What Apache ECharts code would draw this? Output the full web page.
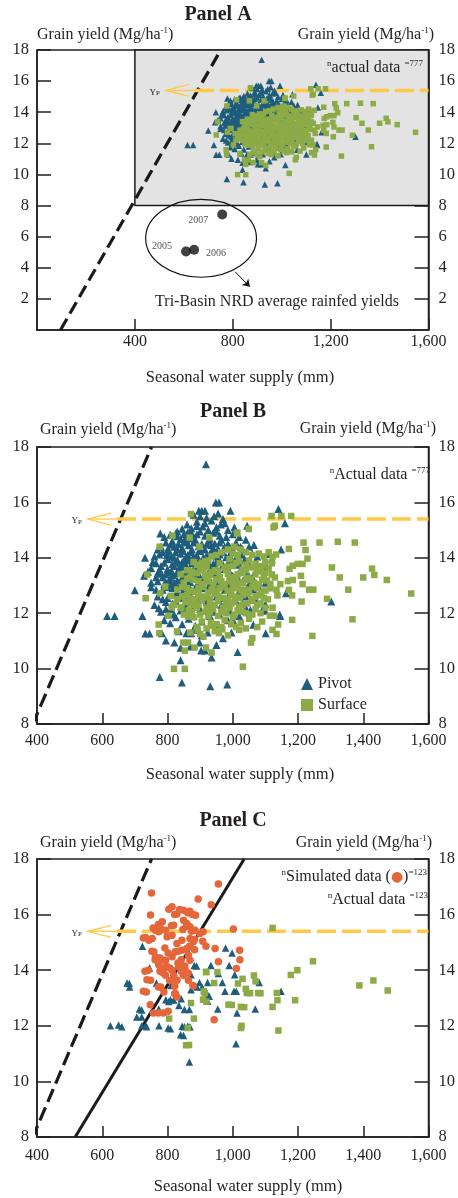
<!DOCTYPE html>
<html><head><meta charset="utf-8">
<script src="https://cdn.jsdelivr.net/npm/echarts@6/dist/echarts.min.js"></script>
<style>html,body{margin:0;padding:0;background:#fff}#c{width:458px;height:1198px}</style>
</head><body><div id="c"></div>
<script>
const FONT = "'Liberation Serif','DejaVu Serif',serif";
const INK = '#231f20';
const BLUE = '#1e5d7c', GREEN = '#8cab46', ORANGE = '#e5663a', YELLOW = '#ffc845';

// ---- Data: actual data (n = 777), shared by Panels A and B ----
const pivotActual = [
[615,11.9],[638,11.9],[700,12.83],[723,11.9],[732,11.27],[745,11.27],[731,14.0],[728,13.35],[740,13.5],[776,9.7],[844,9.5],[931,9.36],[983,9.43],[840,10.3],[935,10.4],[1015,10.6],[903,10.65],[915,10.65],[918,17.38],[948,16.0],[958,16.0],[896,15.7],[905,15.7],[915,15.7],[993,15.7],[1140,15.76],[1160,15.25],[1044,15.16],[1065,14.46],[1148,14.3],[1302,12.42],[1145,11.9],[1101,11.28],[1063,11.58],[1163,12.72],[1104,13.66],[1114,14.14],[1024,14.4],[1036,13.9],[1094,12.21],[1099,12.09],[1054,12.12],[996,11.3],[1002,11.73],[1064,12.86],
[873,15.07],[908,15.13],[943,15.5],[963,15.2],[925,15.0],[890,15.3],[985,15.0],[860,15.2],[935,15.35],
[880,15.55],[920,15.45],[955,15.6],[970,15.4],[900,15.5],
[845,15.05],[915,15.25],[950,15.1],[975,15.25],[1005,15.1],[830,14.95],[890,15.15],
[778,14.88],[808,14.83],[850,14.85],[873,14.9],[900,14.95],[940,14.9],[960,14.8],[1000,14.85],[1020,14.75],[830,14.78],[915,14.8],[880,14.76],
[790,14.75],[825,14.88],[855,14.7],[890,14.85],[930,14.7],[950,14.95],[980,14.75],[1040,14.65],[862,14.92],
[815,14.6],[833,14.5],[860,14.55],[885,14.65],[905,14.5],[925,14.6],[945,14.52],[965,14.65],[985,14.5],[1010,14.55],[870,14.7],[840,14.68],[795,14.55],
[800,14.3],[820,14.4],[845,14.35],[865,14.45],[875,14.3],[895,14.42],[915,14.3],[935,14.45],[955,14.33],[975,14.4],[1000,14.3],[1030,14.32],[780,14.4],
[810,14.48],[830,14.32],[850,14.58],[880,14.55],[900,14.32],[920,14.48],[940,14.35],[960,14.55],[990,14.4],[1050,14.4],[770,14.3],
[798,14.1],[810,14.05],[825,14.2],[840,14.15],[855,14.0],[870,14.2],[890,14.1],[910,14.02],[930,14.15],[950,14.05],[970,14.2],[990,14.1],[1010,14.0],[1075,14.05],[1120,13.95],[785,14.2],[760,14.05],
[775,14.12],[805,14.25],[820,14.0],[848,14.25],[862,14.1],[880,14.05],[900,14.25],[920,14.08],[940,14.25],[960,14.12],[980,14.02],[1000,14.22],[1030,14.1],[1060,14.15],
[765,13.8],[790,13.82],[815,13.78],[830,13.92],[845,13.85],[860,13.95],[875,13.8],[895,13.88],[920,13.85],[940,13.78],[960,13.9],[985,13.8],[1005,13.85],[1050,13.78],
[780,13.7],[800,13.95],[825,13.82],[838,13.7],[855,13.78],[870,13.9],[885,13.7],[910,13.92],[930,13.72],[950,13.85],[970,13.75],[995,13.9],[1020,13.75],[1070,13.85],[755,13.85],
[750,13.62],[775,13.55],[800,13.6],[820,13.7],[835,13.55],[850,13.68],[865,13.52],[885,13.62],[905,13.7],[930,13.55],[950,13.65],[975,13.6],[1025,13.6],[1090,13.55],[812,13.52],
[765,13.3],[782,13.42],[795,13.4],[810,13.28],[828,13.45],[845,13.3],[860,13.45],[875,13.32],[890,13.45],[915,13.3],[940,13.42],[960,13.28],[1000,13.35],[1060,13.3],
[785,13.3],[800,13.48],[818,13.38],[838,13.48],[852,13.38],[868,13.58],[880,13.25],[898,13.35],[925,13.45],[950,13.35],[990,13.5],[1015,13.3],[1045,13.45],[770,13.45],
[750,13.1],[770,13.15],[790,13.05],[805,13.2],[822,13.1],[840,13.05],[855,13.2],[870,13.12],[900,13.0],[920,13.18],[935,13.1],[965,13.2],[985,13.05],[1030,13.15],[1100,13.1],
[750,12.94],[785,12.85],[800,12.95],[815,12.9],[830,12.78],[845,12.95],[875,12.8],[905,12.9],[940,12.85],[1020,12.8],[1080,12.95],
[765,12.85],[795,13.12],[812,13.05],[830,13.18],[850,12.85],[862,13.05],[885,12.92],[895,13.12],[925,12.95],[955,13.05],[975,12.85],[1005,12.95],[1050,13.05],
[770,12.6],[800,12.55],[830,12.7],[860,12.55],[890,12.6],[920,12.65],[960,12.55],[990,12.7],[1040,12.6],
[785,12.5],[815,12.35],[840,12.55],[870,12.45],[900,12.5],[935,12.3],[950,12.6],[980,12.45],[1030,12.35],[1070,12.5],
[760,12.3],[795,12.4],[825,12.45],[855,12.35],[885,12.3],[920,12.4],[965,12.3],[1010,12.45],[1100,12.32],
[773,12.18],[780,12.05],[810,12.15],[840,12.1],[870,12.02],[900,12.15],[940,12.05],[990,12.1],[1040,12.2],[1144,11.95],
[795,12.15],[820,11.95],[855,12.15],[880,11.9],[915,12.1],[960,11.95],[1020,11.9],
[790,11.75],[808,11.64],[825,11.85],[845,11.6],[865,11.8],[885,11.55],[905,11.7],[930,11.9],[955,11.6],[985,11.75],[800,11.95],
[783,11.28],[795,11.01],[821,10.94],[835,11.35],[858,11.28],[873,11.28],[923,11.3],[880,11.4],[905,11.2],[970,11.1],[898,10.94],
[840,10.75],[870,10.8],[950,10.85]
];
const surfaceActual = [
[872,15.58],[1119,15.51],[1149,15.51],[1179,15.51],[1129,15.16],[1049,15.04],[1014,14.91],[1217,14.55],[1266,14.55],[1322,14.58],[1374,14.55],[1172,14.32],[1223,14.28],[1229,13.97],[1133,14.12],[1122,14.04],[1199,13.78],[1214,13.78],[1184,13.71],[1174,13.6],[1304,13.65],[1427,13.61],[1434,13.38],[1328,13.29],[1400,13.29],[1472,13.2],[1129,13.29],[1209,13.35],[1169,13.16],[1184,13.2],[1214,13.05],[1146,13.05],[1234,12.85],[1247,12.85],[1354,12.85],[1172,12.84],[1134,12.85],[1289,12.52],[1211,12.42],[1182,12.64],[1137,12.64],[1547,12.71],[1122,12.2],[1114,11.91],[1127,11.91],[1182,11.76],[1367,11.78],[1139,11.59],[1122,11.4],[1134,11.25],[1244,11.18],[1056,10.94],[1031,10.07],
[815,14.8],[776,14.4],[868,14.73],[898,14.4],[928,14.73],[738,13.4],[793,12.96],[733,12.54],[778,12.72],[813,12.21],[803,11.91],[773,11.59],[775,11.28],[829,11.34],[848,10.94],[863,10.94],[853,10.65],[883,10.76],[918,10.76],[935,10.58],[820,9.99],[853,9.99],[893,11.4],[933,11.66],[958,11.28],[968,11.42],[843,12.21],[863,11.88],[1013,14.88],[1125,15.1],
[985,14.3],[1005,14.4],[1040,14.2],[1080,14.15],[1095,14.05],[950,14.1],[1015,14.1],
[965,14.2],[1025,14.3],[1060,14.1],[1110,14.2],[935,14.05],[1000,14.15],
[880,13.85],[905,13.8],[925,13.9],[990,13.95],[1010,13.82],[1050,13.9],[1070,13.78],[1100,13.85],
[890,13.75],[915,13.88],[960,13.8],[985,13.68],[1020,13.88],[1040,13.75],[1090,13.7],[1120,13.8],
[900,13.6],[920,13.7],[945,13.55],[975,13.65],[1000,13.7],[1030,13.58],[1060,13.65],[1085,13.52],[1110,13.6],[860,13.55],
[875,13.5],[910,13.55],[930,13.38],[955,13.5],[980,13.55],[1015,13.4],[1040,13.55],[1075,13.55],[1100,13.45],[1120,13.4],
[840,13.4],[870,13.3],[890,13.45],[915,13.35],[935,13.48],[960,13.3],[985,13.42],[1005,13.3],[1025,13.45],[1045,13.28],[1070,13.4],[1095,13.3],
[860,13.25],[895,13.15],[920,13.28],[940,13.05],[965,13.15],[990,13.28],[1010,13.2],[1030,13.1],[1055,13.22],[1080,13.05],[1105,13.18],
[850,13.1],[880,13.2],[905,13.05],[925,13.15],[950,13.22],[975,13.05],[995,13.15],[1015,13.05],[1040,13.2],[1065,13.1],[1090,13.2],[1115,13.05],
[830,12.85],[860,12.9],[885,12.78],[910,12.95],[935,12.85],[960,12.9],[985,12.8],[1000,12.95],[1025,12.85],[1050,12.78],[1075,12.9],[1100,12.82],
[845,12.95],[870,12.8],[895,12.9],[925,12.75],[950,12.8],[975,12.95],[995,12.75],[1015,12.9],[1040,12.85],[1060,12.95],[1088,12.75],[1115,12.9],
[845,12.6],[870,12.55],[895,12.7],[920,12.6],[945,12.7],[970,12.55],[995,12.65],[1020,12.55],[1045,12.7],[1070,12.6],[1095,12.55],[810,12.62],
[830,12.5],[860,12.65],[885,12.5],[905,12.6],[930,12.5],[958,12.62],[985,12.5],[1008,12.6],[1030,12.65],[1058,12.52],[1082,12.65],[1108,12.5],
[820,12.3],[855,12.4],[880,12.3],[905,12.45],[930,12.35],[955,12.45],[980,12.3],[1005,12.4],[1030,12.3],[1060,12.45],[1085,12.35],
[840,12.2],[870,12.35],[895,12.3],[920,12.2],[945,12.3],[970,12.2],[995,12.35],[1020,12.22],[1045,12.35],[1075,12.3],[1100,12.2],
[865,12.1],[890,12.2],[915,12.05],[940,12.15],[965,12.05],[990,12.2],[1015,12.1],[1040,12.0],[1070,12.15],
[850,11.95],[875,12.05],[900,11.95],[930,12.05],[955,11.9],[980,12.0],[1005,11.95],[1030,12.05],[1060,11.95],[1085,12.0],
[880,11.85],[905,11.7],[925,11.9],[950,11.6],[975,11.75],[1000,11.85],[1025,11.65],[1050,11.8],[1090,11.7],
[890,11.5],[920,11.45],[940,11.55],[965,11.5],[995,11.6],[1010,11.5],[1040,11.45],[1075,11.5],[900,11.25],
[870,11.3],[910,11.15],[945,11.35],[985,11.2],[1020,11.4],[1060,11.1]
];

// ---- Panel A: Tri-Basin NRD average rainfed yields ----
const rainfedYears = ['2005', '2006', '2007'];
const rainfedSupply = [609, 642, 757];
const rainfedYield = [5.05, 5.16, 7.42];

// ---- Panel C (n = 123) ----
const simulatedC = [
[956,17.1],[751,16.78],[894,16.56],[934,16.35],[748,15.99],[1002,15.48],
[814,16.28],[804,16.19],[829,16.02],[849,16.16],[862,16.07],[874,16.02],[886,15.98],[822,16.0],[837,16.18],[868,16.12],[878,16.0],
[784,15.74],[774,15.62],[819,15.62],[849,15.8],[859,15.68],[869,15.56],[756,15.52],[772,15.64],[812,15.6],[858,15.58],
[763,15.44],[773,15.38],[794,15.44],[884,15.44],[899,15.32],[909,15.38],[782,15.46],[847,15.46],[873,15.4],
[733,15.18],[743,15.08],[753,15.14],[799,15.2],[814,15.26],[829,14.96],[844,15.08],[869,15.14],[879,15.02],[726,15.16],[883,15.1],[908,15.04],
[758,14.66],[763,14.48],[794,14.36],[814,14.48],[824,14.66],[844,14.72],[859,14.78],[864,14.54],[918,14.86],[752,14.68],[792,14.8],[802,14.62],[832,14.68],[868,14.86],[883,14.74],[946,14.78],[1021,14.72],
[774,14.18],[784,14.36],[834,14.12],[849,14.15],[854,14.0],[869,14.36],[762,14.38],[777,14.44],[842,14.38],[956,14.3],[1022,14.38],[797,14.14],[807,14.08],[832,14.26],[853,14.14],[772,14.26],
[741,14.0],[748,13.64],[789,14.06],[794,13.82],[814,14.0],[819,13.82],[829,13.64],[849,13.82],[864,13.64],[1011,14.06],[731,13.96],[737,13.66],[777,13.96],[787,13.9],[842,13.96],[863,13.9],[817,13.66],[807,13.63],
[879,13.43],[735,13.22],[779,13.4],[789,13.22],[824,13.16],[829,13.04],[822,13.42],[726,13.24],[772,13.4],[878,13.45],[822,13.15],
[747,12.76],[757,12.46],[772,12.46],[787,12.46],[802,12.52],[943,12.22]
];
const pivotC = [
[625,12.0],[650,12.03],[660,11.97],[676,13.54],[684,13.4],[723,14.86],[745,14.08],[714,12.6],[706,12.32],[721,12.32],[721,12.0],[733,12.0],[736,11.97],[774,12.0],[773,12.6],[802,11.92],[766,13.54],[795,12.94],[809,12.94],[811,13.45],[842,12.97],[835,12.73],[852,12.59],[867,12.59],[845,11.98],[862,11.98],[840,11.68],[867,10.7],[872,13.84],[882,14.17],[872,13.3],[898,13.56],[906,13.4],[923,13.56],[923,13.12],[928,13.06],[923,12.88],[933,14.17],[956,13.88],[968,13.56],[976,13.24],[1004,13.24],[1011,13.24],[989,14.17],[978,14.8],[998,14.62],[1006,13.84],[954,12.6],[1013,12.46],[1010,11.35],[1069,12.6],[1081,13.56],[1148,13.24],[890,13.4],[819,12.93],[804,12.87],[809,11.89],[852,11.97],[869,11.97],[849,11.65],[721,12.57],[889,14.15],[683,13.52]
];
const surfaceC = [
[1122,15.52],[918,13.93],[953,13.93],[943,13.54],[911,13.24],[909,12.94],[872,12.82],[881,12.26],[805,12.26],[862,11.92],[857,11.3],[987,12.76],[1016,13.52],[1030,13.69],[1040,13.33],[1043,13.18],[1065,13.81],[1070,13.6],[1078,13.18],[1025,12.68],[1027,12.0],[1025,11.92],[1122,12.68],[1135,13.18],[1137,12.92],[1140,11.83],[1178,13.83],[1198,14.0],[1246,14.32],[1191,12.92],[1388,13.45],[1431,13.63],[1475,13.27],[866,11.31],[997,12.75],[1035,12.67],[919,12.87],[914,13.17],[1053,13.17],[1085,13.17],[919,13.94]
];

// ---- Reference lines ----
const yieldPotential = 15.4;
const ypStartSupply = 645;
const boundaryDashed = [[96, 0], [751, 18]];
const boundarySolid = [[517, 8], [1035, 18]];
const greyBox = [[400, 8], [1600, 18]];
const ellipseBox = [[444, 3.39], [897, 8.4]];
const ellipseArrow = [[809, 3.75], [870, 2.78]];

// ---- Axes ----
const xAxisA = [0, 1600, 400];
const yAxisA = [0, 18, 2];
const xAxisBC = [400, 1600, 200];
const yAxisBC = [8, 18, 2];

const grids = [
  {left: 37, top: 50, width: 398, height: 280},
  {left: 37, top: 447, width: 398, height: 277},
  {left: 37, top: 859, width: 398, height: 278}
];

function fmt(v) {
  if (v >= 1000) return Math.floor(v / 1000) + ',' + String(v % 1000).padStart(3, '0');
  return String(v);
}
function xAx(g, r, margin, hideMin) {
  return {type: 'value', gridIndex: g, min: r[0], max: r[1], interval: r[2],
    axisLine: {show: true, onZero: false, lineStyle: {color: INK, width: 1.5}},
    axisTick: {show: true, inside: true, length: 11, lineStyle: {color: INK, width: 1.5}},
    axisLabel: {show: true, margin: margin, fontFamily: FONT, fontSize: 16, color: INK, showMinLabel: !hideMin, showMaxLabel: true, formatter: fmt},
    splitLine: {show: false}};
}
function yAx(g, r, pos, hideMin) {
  return {type: 'value', gridIndex: g, position: pos, min: r[0], max: r[1], interval: r[2],
    axisLine: {show: true, onZero: false, lineStyle: {color: INK, width: 1.5}},
    axisTick: {show: true, inside: true, length: 14, lineStyle: {color: INK, width: 1.5}},
    axisLabel: {show: true, margin: pos === 'right' ? 10 : 8, fontFamily: FONT, fontSize: 16.5, color: INK, showMinLabel: !hideMin, showMaxLabel: true},
    splitLine: {show: false}};
}

function lineSeries(g, data, style, z) {
  return {type: 'line', xAxisIndex: g, yAxisIndex: 2 * g, data: data, symbol: 'none', silent: true,
    lineStyle: style, z: z || 2, clip: true, animation: false};
}
function scat(name, g, data, symbol, size, color, z) {
  return {name: name, type: 'scatter', xAxisIndex: g, yAxisIndex: 2 * g, data: data, symbol: symbol,
    symbolSize: size, itemStyle: {color: color, opacity: 1}, z: z, animation: false};
}
const dashStyle = {color: '#1a1a1a', width: 3.2, type: [13, 6], cap: 'butt'};
const ypStyle = {color: YELLOW, width: 3.5, type: [19, 6]};

const series = [];
// Panel A
series.push({type: 'scatter', xAxisIndex: 0, yAxisIndex: 0, data: [], z: 1, silent: true,
  markArea: {silent: true, itemStyle: {color: '#e3e3e3', borderColor: '#1a1a1a', borderWidth: 1.5},
    data: [[{coord: greyBox[0]}, {coord: greyBox[1]}]]},
  markLine: {silent: true, symbol: ['none', 'arrow'], symbolSize: 7, label: {show: false},
    lineStyle: {color: '#111', width: 1, type: 'solid'},
    data: [[{coord: ellipseArrow[0]}, {coord: ellipseArrow[1]}]]}});
series.push(lineSeries(0, boundaryDashed, dashStyle, 3));
series.push(lineSeries(0, [[ypStartSupply, yieldPotential], [1600, yieldPotential]], ypStyle, 3));
series.push(scat('Pivot', 0, pivotActual, 'triangle', 6.5, BLUE, 4));
series.push(scat('Surface', 0, surfaceActual, 'rect', 5.5, GREEN, 5));
series.push({type: 'scatter', xAxisIndex: 0, yAxisIndex: 0, symbol: 'circle', symbolSize: 10, z: 6,
  itemStyle: {color: '#111'},
  data: rainfedYears.map((yr, i) => ({name: yr, value: [rainfedSupply[i], rainfedYield[i]],
    label: {show: true, formatter: yr, fontFamily: FONT, fontSize: 10, color: INK,
      position: i === 1 ? 'right' : 'left', distance: 5,
      offset: i === 0 ? [-4, -5] : (i === 1 ? [2, 4] : [-4, 6])}}))});
// Panel B
series.push(lineSeries(1, boundaryDashed, {color: '#1a1a1a', width: 3.2, type: [14, 6]}, 3));
series.push(lineSeries(1, [[ypStartSupply, yieldPotential], [1600, yieldPotential]], ypStyle, 3));
series.push(scat('Pivot', 1, pivotActual, 'triangle', 8, BLUE, 4));
series.push(scat('Surface', 1, surfaceActual, 'rect', 6.5, GREEN, 5));
// Panel C
series.push(lineSeries(2, boundaryDashed, {color: '#1a1a1a', width: 3.2, type: [14, 6]}, 3));
series.push(lineSeries(2, boundarySolid, {color: '#1a1a1a', width: 3, type: 'solid'}, 3));
series.push(lineSeries(2, [[ypStartSupply, yieldPotential], [1600, yieldPotential]], ypStyle, 3));
series.push(scat('Pivot', 2, pivotC, 'triangle', 7.5, BLUE, 4));
series.push(scat('Surface', 2, surfaceC, 'rect', 6.5, GREEN, 5));
series.push(scat('Simulated', 2, simulatedC, 'circle', 7.5, ORANGE, 6));

function txt(x, y, text, opts) {
  opts = opts || {};
  return {type: 'text', x: x, y: y, z: 100, silent: true,
    style: Object.assign({text: text, fill: INK, fontFamily: FONT, fontSize: 16,
      align: opts.align || 'left', textAlign: opts.align || 'left', verticalAlign: 'middle', textVerticalAlign: 'middle'}, opts.style || {})};
}
const rich = {
  t: {fontFamily: FONT, fontSize: 16, fill: INK, lineHeight: 18, verticalAlign: 'middle'},
  s: {fontFamily: FONT, fontSize: 9, fill: INK, lineHeight: 9, verticalAlign: 'top'},
  c: {fontFamily: "'DejaVu Sans',sans-serif", fontSize: 14, fill: ORANGE, lineHeight: 18, verticalAlign: 'middle'}
};
function rtxt(x, y, text, align) {
  return {type: 'text', x: x, y: y, z: 100, silent: true,
    style: {text: text, rich: rich, align: align, textAlign: align, verticalAlign: 'middle', textVerticalAlign: 'middle', fill: INK, fontFamily: FONT, fontSize: 16}};
}
const GY = '{t|Grain yield (Mg/ha}{s|-1}{t|)}';
const XN = 'Seasonal water supply (mm)';

const graphics = [
  txt(218, 15, 'Panel A', {align: 'center', style: {fontSize: 20, fontWeight: 'bold'}}),
  txt(233, 412, 'Panel B', {align: 'center', style: {fontSize: 20, fontWeight: 'bold'}}),
  txt(233, 821, 'Panel C', {align: 'center', style: {fontSize: 20, fontWeight: 'bold'}}),
  rtxt(37, 35, GY, 'left'), rtxt(434, 35, GY, 'right'),
  rtxt(40, 430, GY, 'left'), rtxt(436, 429, GY, 'right'),
  rtxt(40, 843, GY, 'left'), rtxt(432, 843, GY, 'right'),
  txt(240, 378, XN, {align: 'center', style: {fontSize: 16.5}}),
  txt(240, 775, XN, {align: 'center', style: {fontSize: 16.5}}),
  txt(248, 1187, XN, {align: 'center', style: {fontSize: 16.5}}),
  rtxt(423, 68, '{s|n}{t|actual data }{s|=777}', 'right'),
  rtxt(430, 475, '{s|n}{t|Actual data }{s|=777}', 'right'),
  rtxt(427, 877, '{s|n}{t|Simulated data (}{c|●}{t|)}{s|=123}', 'right'),
  rtxt(428, 900, '{s|n}{t|Actual data }{s|=123}', 'right'),
  txt(277, 302, 'Tri-Basin NRD average rainfed yields', {align: 'center'})
];

const chart = echarts.init(document.getElementById('c'), null, {renderer: 'canvas'});
chart.setOption({
  animation: false,
  backgroundColor: '#fff',
  grid: grids.map(g => Object.assign({show: true, borderColor: INK, borderWidth: 1.5, backgroundColor: 'transparent', containLabel: false}, g)),
  xAxis: [xAx(0, xAxisA, 4, true), xAx(1, xAxisBC, 9, false), xAx(2, xAxisBC, 11, false)],
  yAxis: [yAx(0, yAxisA, 'left', true), yAx(0, yAxisA, 'right', true),
          yAx(1, yAxisBC, 'left', false), yAx(1, yAxisBC, 'right', false),
          yAx(2, yAxisBC, 'left', false), yAx(2, yAxisBC, 'right', false)],
  legend: {show: true, orient: 'vertical', left: 296, top: 671, itemWidth: 12, itemHeight: 12, itemGap: 5,
    textStyle: {fontFamily: FONT, fontSize: 16, color: INK, lineHeight: 16, padding: [0, 0, 0, 0]},
    selectedMode: false,
    data: [{name: 'Pivot', icon: 'triangle'}, {name: 'Surface', icon: 'rect'}]},
  series: series,
  graphic: graphics
});

// Annotations positioned from data coordinates
const extra = [];
for (let g = 0; g < 3; g++) {
  const p = chart.convertToPixel({xAxisIndex: g, yAxisIndex: 2 * g}, [ypStartSupply, yieldPotential]);
  const tipX = p[0] - 29, y = p[1];
  extra.push({type: 'polyline', z: 50, silent: true, shape: {points: [[tipX + 23, y - 6], [tipX, y], [tipX + 23, y + 6]]},
    style: {stroke: YELLOW, lineWidth: 1.3, fill: null}});
  extra.push({type: 'line', z: 50, silent: true, shape: {x1: tipX, y1: y, x2: p[0], y2: y},
    style: {stroke: YELLOW, lineWidth: 1.3}});
  extra.push({type: 'text', z: 50, silent: true, x: tipX - 6, y: y + 2,
    style: {text: '{a|Y}{b|P}', rich: {a: {fontFamily: FONT, fontSize: 9, fill: INK}, b: {fontFamily: FONT, fontSize: 7, fill: INK, verticalAlign: 'bottom'}},
      align: 'right', textAlign: 'right', verticalAlign: 'middle', textVerticalAlign: 'middle'}});
}
const e0 = chart.convertToPixel({xAxisIndex: 0, yAxisIndex: 0}, ellipseBox[0]);
const e1 = chart.convertToPixel({xAxisIndex: 0, yAxisIndex: 0}, ellipseBox[1]);
extra.push({type: 'ellipse', z: 50, silent: true,
  shape: {cx: (e0[0] + e1[0]) / 2, cy: (e0[1] + e1[1]) / 2, rx: Math.abs(e1[0] - e0[0]) / 2, ry: Math.abs(e1[1] - e0[1]) / 2},
  style: {stroke: '#111', lineWidth: 1.2, fill: null}});
chart.setOption({graphic: graphics.concat(extra)});
</script></body></html>
